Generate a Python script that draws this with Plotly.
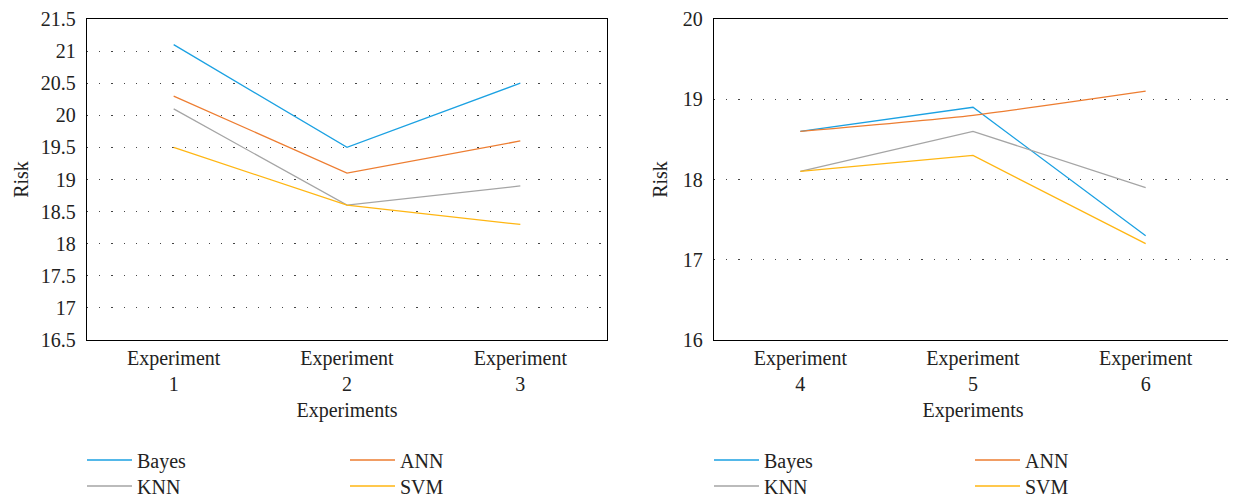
import plotly.graph_objects as go

cats_left = ["Experiment<br>1", "Experiment<br>2", "Experiment<br>3"]
cats_right = ["Experiment<br>4", "Experiment<br>5", "Experiment<br>6"]
series = ["Bayes", "ANN", "KNN", "SVM"]
left_vals = {
    "Bayes": [21.1, 19.5, 20.5],
    "ANN": [20.3, 19.1, 19.6],
    "KNN": [20.1, 18.6, 18.9],
    "SVM": [19.5, 18.6, 18.3],
}
right_vals = {
    "Bayes": [18.6, 18.9, 17.3],
    "ANN": [18.6, 18.8, 19.1],
    "KNN": [18.1, 18.6, 17.9],
    "SVM": [18.1, 18.3, 17.2],
}
colors = {"Bayes": "#1ba1e2", "ANN": "#ed7d31", "KNN": "#a5a5a5", "SVM": "#ffb612"}
legend_row = {"Bayes": 0, "ANN": 0, "KNN": 1, "SVM": 1}

FONT = "Liberation Serif"
FS = 20
fig = go.Figure()
for s in series:
    fig.add_trace(go.Scatter(
        x=cats_left, y=left_vals[s], name=s, mode="lines",
        line=dict(color=colors[s], width=1.3),
        xaxis="x", yaxis="y",
        legend="legend" if legend_row[s] == 0 else "legend2",
    ))
for s in series:
    fig.add_trace(go.Scatter(
        x=cats_right, y=right_vals[s], name=s, mode="lines",
        line=dict(color=colors[s], width=1.3,
                  shape="spline" if s == "ANN" else "linear", smoothing=0.6),
        xaxis="x2", yaxis="y2",
        legend="legend3" if legend_row[s] == 0 else "legend4",
    ))

# page has an 8px body margin: work in figure coordinates (screen - 8)
OFF = 8
W, H = 1236 - OFF, 498 - OFF
L = 87 - OFF
T = 19 - OFF
R = W - (1232 - OFF)
B = H - (340 - OFF)
pw = W - L - R
ph = H - T - B
d1 = [0, (607 - OFF - L) / pw]
d2 = [(714 - OFF - L) / pw, 1]

axis_common = dict(
    showline=True, linecolor="black", linewidth=1.3, mirror=True,
    ticks="", tickfont=dict(family=FONT, size=FS, color="#222"),
    title_font=dict(family=FONT, size=FS, color="#222"),
    ticklabeloverflow="allow",
)
grid = dict(showgrid=True, gridcolor="#444", gridwidth=1.2, griddash="1.2px,11px", zeroline=False)

fig.update_layout(
    width=W, height=H,
    margin=dict(l=L, r=R, t=T, b=B, autoexpand=False),
    paper_bgcolor="white", plot_bgcolor="white",
    font=dict(family=FONT, size=FS, color="#222"),
    xaxis=dict(domain=d1, type="category", range=[-0.5, 2.5], showgrid=False,
               automargin=False, title=dict(text="Experiments", standoff=8), **axis_common),
    yaxis=dict(range=[16.5, 21.5], dtick=0.5, tick0=16.5, automargin=False,
               ticklabelstandoff=6,
               title=dict(text="Risk", standoff=6), **grid, **axis_common),
    xaxis2=dict(domain=d2, type="category", range=[-0.5, 2.5], showgrid=False,
                automargin=False, title=dict(text="Experiments", standoff=8), anchor="y2", **axis_common),
    yaxis2=dict(range=[16, 20], dtick=1, tick0=16, anchor="x2", automargin=False,
                ticklabelstandoff=6,
                title=dict(text="Risk", standoff=9), **grid, **axis_common),
)

def leg(line_start_screen, ycenter_screen, ew):
    xpix = line_start_screen - OFF - 5
    ypix = ycenter_screen - OFF
    return dict(
        orientation="h", x=(xpix - L) / pw, xanchor="left",
        y=(H - B - ypix) / ph, yanchor="middle",
        entrywidth=ew, entrywidthmode="pixels",
        font=dict(family=FONT, size=FS, color="#222"),
        bgcolor="rgba(0,0,0,0)", itemwidth=45, tracegroupgap=0,
    )

fig.update_layout(
    legend=leg(87, 460, 203), legend2=leg(87, 486, 203),
    legend3=leg(714, 460, 201), legend4=leg(714, 486, 201),
)

fig.write_html("out.html")
